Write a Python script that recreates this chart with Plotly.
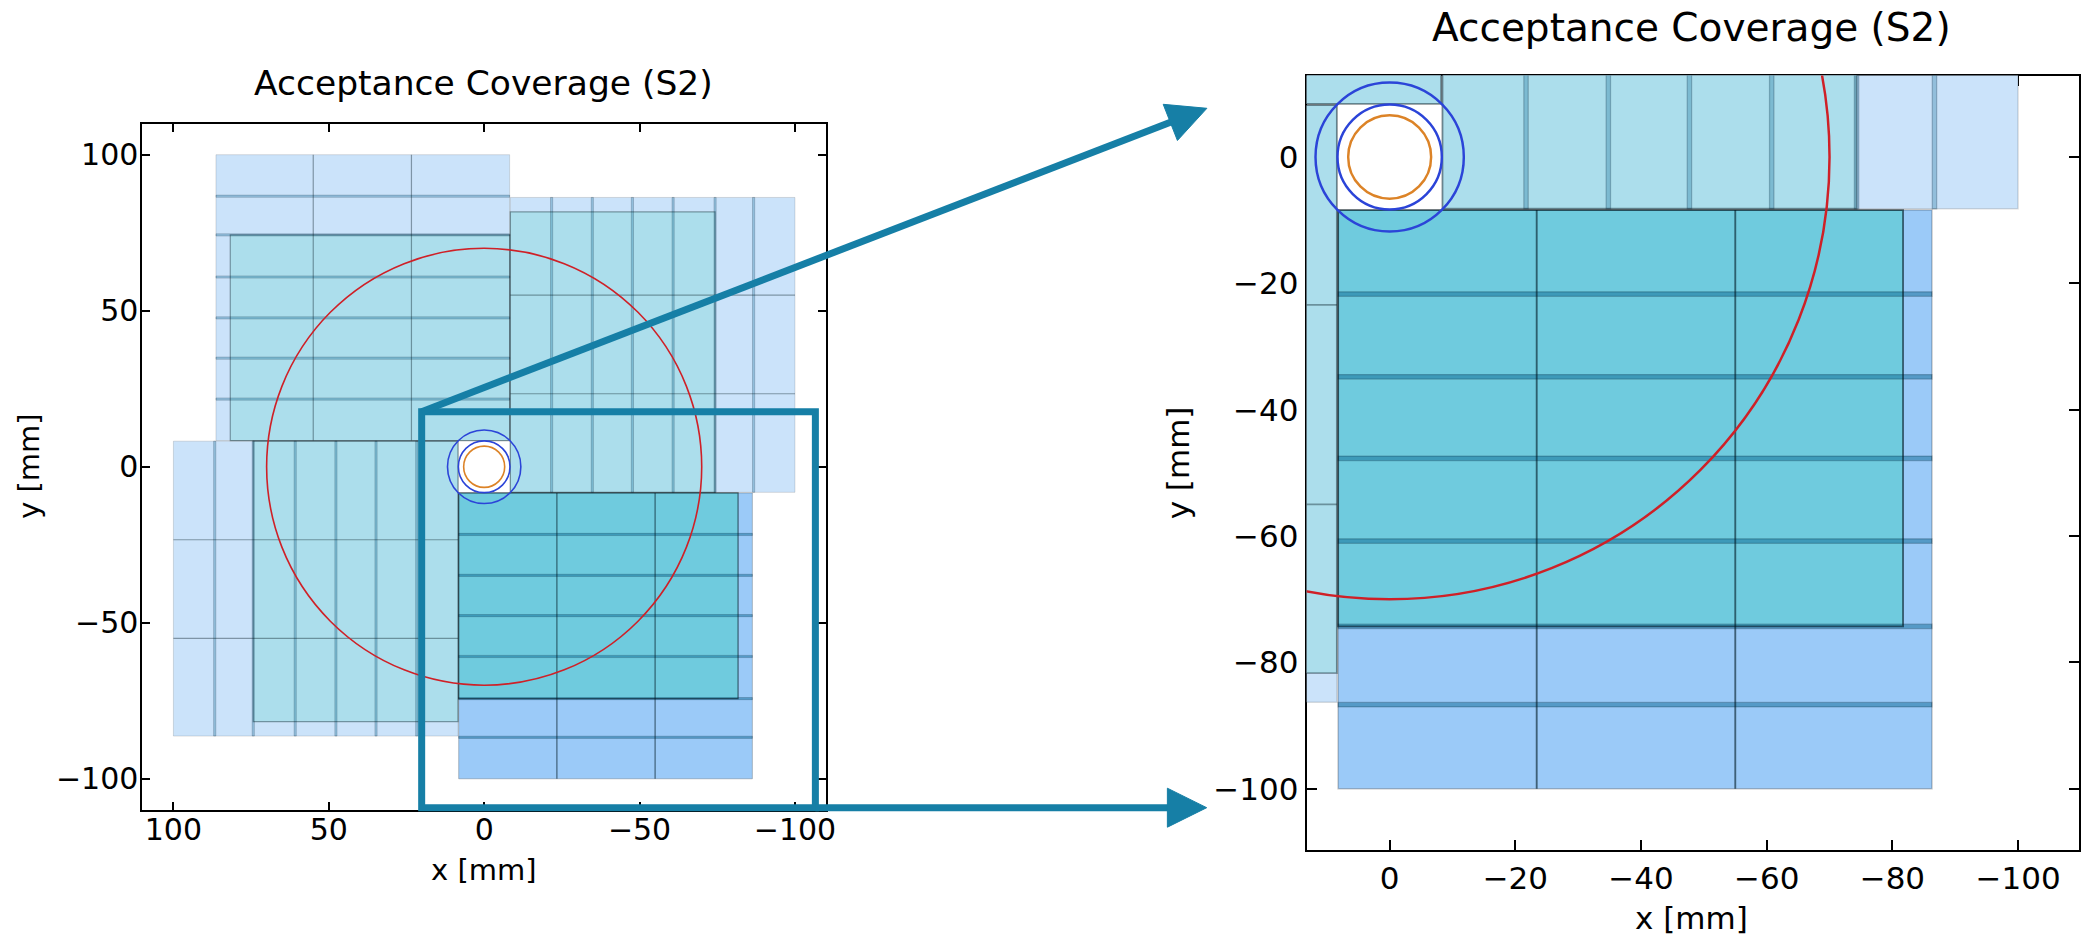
import plotly.graph_objects as go

W, H = 2089, 935

# ---------------- data (mm) ----------------
# Base detector quadrant (the one below/right of the beam); the other three
# quadrants are the same block turned by 90 degree steps around the beam.
outer_x = [8.2, -86.3]
outer_y = [-8.4, -100.0]
inner_x = [8.2, -81.7]
inner_y = [-8.4, -74.3]
column_edges = [-23.4, -55.0]                            # interior column boundaries
row_edges = [-21.7, -34.8, -47.7, -60.8, -74.3, -86.7]   # interior row boundaries
row_overlap = 0.7
quadrant_turns = [0, 1, 2, 3]
quadrant_emphasis = [True, False, False, False]

r_acceptance = 70.0
r_beam_outer = 11.8
r_beam_inner = 8.3
r_pipe = 6.6

title_text = "Acceptance Coverage (S2)"
xlabel = "x [mm]"
ylabel = "y [mm]"
left_ticks = [-100, -50, 0, 50, 100]
right_ticks = [-100, -80, -60, -40, -20, 0]

# ---------------- styles ----------------
STRONG = dict(outer="#9bcaf8", inner="#6fcbde", band="rgba(0,95,140,0.45)",
              thin="rgba(0,25,35,0.6)", oedge="rgba(0,0,0,0.22)", iedge="rgba(0,20,30,0.6)")
WEAK = dict(outer="#cbe3fa", inner="#acdeec", band="rgba(0,95,140,0.28)",
            thin="rgba(0,20,30,0.38)", oedge="rgba(0,0,0,0.13)", iedge="rgba(0,20,30,0.38)")
TEAL = "#167fa6"


def rot(x, y, k):
    for _ in range(k):
        x, y = -y, x
    return x, y


def rect_shape(x0, y0, x1, y1, k, xr, yr, fill, lcol, lw):
    ax, ay = rot(x0, y0, k)
    bx, by = rot(x1, y1, k)
    return dict(type="rect", xref=xr, yref=yr, x0=ax, y0=ay, x1=bx, y1=by,
                fillcolor=fill, line=dict(color=lcol, width=lw), layer="above")


def line_shape(x0, y0, x1, y1, k, xr, yr, lcol, lw):
    ax, ay = rot(x0, y0, k)
    bx, by = rot(x1, y1, k)
    return dict(type="line", xref=xr, yref=yr, x0=ax, y0=ay, x1=bx, y1=by,
                line=dict(color=lcol, width=lw), layer="above")


def panel_shapes(xr, yr, s):
    shp = []
    styles = [STRONG if e else WEAK for e in quadrant_emphasis]
    for k, st in zip(quadrant_turns, styles):
        shp.append(rect_shape(outer_x[0], outer_y[0], outer_x[1], outer_y[1], k, xr, yr,
                              st["outer"], "rgba(0,0,0,0)", 0))
    for k, st in zip(quadrant_turns, styles):
        shp.append(rect_shape(inner_x[0], inner_y[0], inner_x[1], inner_y[1], k, xr, yr,
                              st["inner"], "rgba(0,0,0,0)", 0))
    for k, st in zip(quadrant_turns, styles):
        for r in row_edges:
            shp.append(rect_shape(outer_x[0], r + row_overlap / 2, outer_x[1], r - row_overlap / 2,
                                  k, xr, yr, st["band"], "rgba(0,30,50,0.25)", 0.8 * s))
        for c in column_edges:
            shp.append(line_shape(c, outer_y[0], c, outer_y[1], k, xr, yr, st["thin"], 1.2 * s))
        shp.append(rect_shape(outer_x[0], outer_y[0], outer_x[1], outer_y[1], k, xr, yr,
                              "rgba(0,0,0,0)", st["oedge"], 1.0 * s))
        shp.append(rect_shape(inner_x[0], inner_y[0], inner_x[1], inner_y[1], k, xr, yr,
                              "rgba(0,0,0,0)", st["iedge"], 1.2 * s))
    for r, col in [(r_acceptance, "#cf2027"), (r_beam_outer, "#2b44d8"),
                   (r_beam_inner, "#2b44d8"), (r_pipe, "#dc8327")]:
        shp.append(dict(type="circle", xref=xr, yref=yr, x0=-r, x1=r, y0=-r, y1=r,
                        line=dict(color=col, width=1.6 * s), fillcolor="rgba(0,0,0,0)",
                        layer="above"))
    return shp


def px(x):
    return x / W


def py(y):
    return 1 - y / H


fig = go.Figure()
fig.add_trace(go.Scatter(x=[None], y=[None], xaxis="x", yaxis="y", showlegend=False, hoverinfo="skip"))
fig.add_trace(go.Scatter(x=[None], y=[None], xaxis="x2", yaxis="y2", showlegend=False, hoverinfo="skip"))

shapes = panel_shapes("x", "y", 1.0) + panel_shapes("x2", "y2", 1.55)

# zoom box and arrows (figure decoration, pixel positions)
bx0, by0, bx1, by1 = 423.7, 411.7, 819.3, 807.7
shapes.append(dict(type="rect", xref="paper", yref="paper", x0=px(bx0), x1=px(bx1),
                   y0=py(by1), y1=py(by0), line=dict(color=TEAL, width=7),
                   fillcolor="rgba(0,0,0,0)", layer="above"))
# arrow 1
shapes.append(dict(type="line", xref="paper", yref="paper", x0=px(bx0), y0=py(by0),
                   x1=px(1178.0), y1=py(121.6), line=dict(color=TEAL, width=7), layer="above"))
shapes.append(dict(type="path", xref="paper", yref="paper",
                   path=f"M {px(1212.7)} {py(108.3)} L {px(1183.1)} {py(140.5)} L {px(1168.8)} {py(104.3)} Z",
                   fillcolor=TEAL, line=dict(color=TEAL, width=1), layer="above"))
# arrow 2
shapes.append(dict(type="line", xref="paper", yref="paper", x0=px(bx1), y0=py(by1),
                   x1=px(1176.0), y1=py(by1), line=dict(color=TEAL, width=7), layer="above"))
shapes.append(dict(type="path", xref="paper", yref="paper",
                   path=f"M {px(1212.5)} {py(by1)} L {px(1173.0)} {py(by1 - 19.5)} L {px(1173.0)} {py(by1 + 19.5)} Z",
                   fillcolor=TEAL, line=dict(color=TEAL, width=1), layer="above"))

FONT = "DejaVu Sans"


def axis(domain, rng, ticks, fs, tl, anchor, standoff):
    return dict(domain=domain, range=rng, tickvals=ticks, ticks="inside", ticklen=tl,
                tickwidth=1.5, tickcolor="black", showline=True, linecolor="black",
                linewidth=2, mirror="ticks", showgrid=False, zeroline=False,
                tickfont=dict(family=FONT, size=fs, color="black"), anchor=anchor,
                ticklabelstandoff=standoff, fixedrange=True)


annotations = [
    dict(text=title_text, x=px(486), y=py(83), xref="paper", yref="paper", showarrow=False,
         font=dict(family=FONT, size=34.5, color="black"), xanchor="center", yanchor="middle"),
    dict(text=title_text, x=px(1700), y=py(27), xref="paper", yref="paper", showarrow=False,
         font=dict(family=FONT, size=39, color="black"), xanchor="center", yanchor="middle"),
    dict(text=xlabel, x=px(486), y=py(870), xref="paper", yref="paper", showarrow=False,
         font=dict(family=FONT, size=29, color="black"), xanchor="center", yanchor="middle"),
    dict(text=ylabel, x=px(29), y=py(466), xref="paper", yref="paper", showarrow=False,
         textangle=-90, font=dict(family=FONT, size=29, color="black"),
         xanchor="center", yanchor="middle"),
    dict(text=xlabel, x=px(1700), y=py(918), xref="paper", yref="paper", showarrow=False,
         font=dict(family=FONT, size=31, color="black"), xanchor="center", yanchor="middle"),
    dict(text=ylabel, x=px(1184), y=py(463), xref="paper", yref="paper", showarrow=False,
         textangle=-90, font=dict(family=FONT, size=31, color="black"),
         xanchor="center", yanchor="middle"),
]

fig.update_layout(
    width=W, height=H, autosize=False,
    margin=dict(l=0, r=0, t=0, b=0, pad=0),
    paper_bgcolor="white", plot_bgcolor="white",
    showlegend=False,
    xaxis=axis([px(143), px(830)], [110, -110], left_ticks, 30, 8, "y", -8),
    yaxis=axis([py(810), py(123.5)], [-110, 110], left_ticks, 30, 8, "x", -4),
    xaxis2=axis([px(1313), 1.0], [13.2, -109.7], right_ticks, 31, 10, "y2", 0),
    yaxis2=axis([py(850), py(75.5)], [-109.7, 12.9], right_ticks, 31, 10, "x2", 0),
    shapes=shapes,
    annotations=annotations,
)

fig.write_html("out.html")
